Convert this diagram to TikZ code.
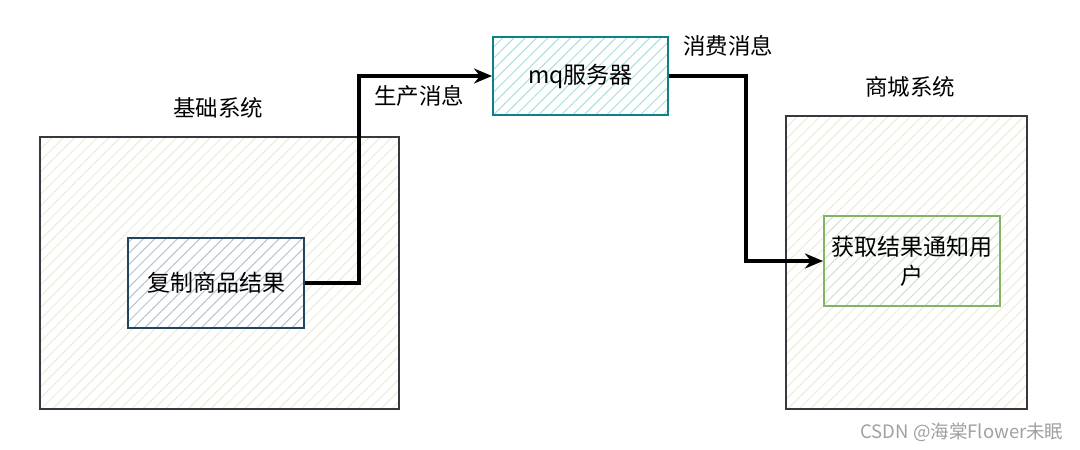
\documentclass[tikz,border=0pt]{standalone}
\usepackage{fontspec}
\setmainfont{Noto Sans CJK SC}
\usepackage{xcolor}
\usetikzlibrary{positioning, arrows.meta, patterns.meta}
\definecolor{sysBorder}{HTML}{36393D}
\definecolor{sysHatch}{HTML}{EEECD6}
\definecolor{slateBorder}{HTML}{23445D}
\definecolor{slateHatch}{HTML}{B6C4D0}
\definecolor{tealBorder}{HTML}{0E8088}
\definecolor{tealHatch}{HTML}{A8DFE2}
\definecolor{leafBorder}{HTML}{82B366}
\definecolor{leafHatch}{HTML}{CDE4CA}
\definecolor{markGray}{HTML}{A0A0A0}

\begin{document}
\begin{tikzpicture}[x=1pt,y=-1pt]
    \tikzset{hatch/.style={preaction={fill=white},pattern={Lines[angle=45,distance=8pt,line width=1pt]},pattern color=#1}, sys/.style={draw=sysBorder,line width=2pt,hatch=sysHatch,minimum width=359pt,minimum height=272pt}, box/.style={line width=2pt,minimum width=176pt,minimum height=90pt,align=center,font=\fontsize{23}{29}\selectfont,text width=166pt,inner sep=0pt}, title/.style={font=\fontsize{22.5}{28}\selectfont}, arr/.style={-{Stealth[length=18pt,width=15pt]},line width=3.5pt,draw=black}}
    \useasboundingbox (0,0) rectangle (1080,450);
    \node[sys] (base) at (219.5,273) {};
    \node[sys,minimum width=241pt,minimum height=293pt] (mall) at (906.5,262.5) {};
    \node[title] (baseT) at (218,108) {基础系统};
    \node[title] (mallT) at (910,87) {商城系统};
    \node[box,draw=slateBorder,hatch=slateHatch] (copy) at (216,283) {复制商品结果};
    \node[box,draw=tealBorder,hatch=tealHatch,minimum width=175pt,minimum height=78pt] (mq) at (580.5,76) {mq服务器};
    \node[box,draw=leafBorder,hatch=leafHatch] (notify) at (912,261) {获取结果通知用\\户};
    \draw[arr] (copy.east) -- ++(54,0) |- (mq.west);
    \draw[arr] (mq.east) -- ++(77,0) |- (notify.west);
    \node[title] (prodL) at (419,96) {生产消息};
    \node[title] (consL) at (728,46) {消费消息};
    \node[font=\fontsize{18.5}{22}\selectfont,text=markGray] (mark) at (962,432) {CSDN @海棠Flower未眠};
  \end{tikzpicture}
\end{document}
